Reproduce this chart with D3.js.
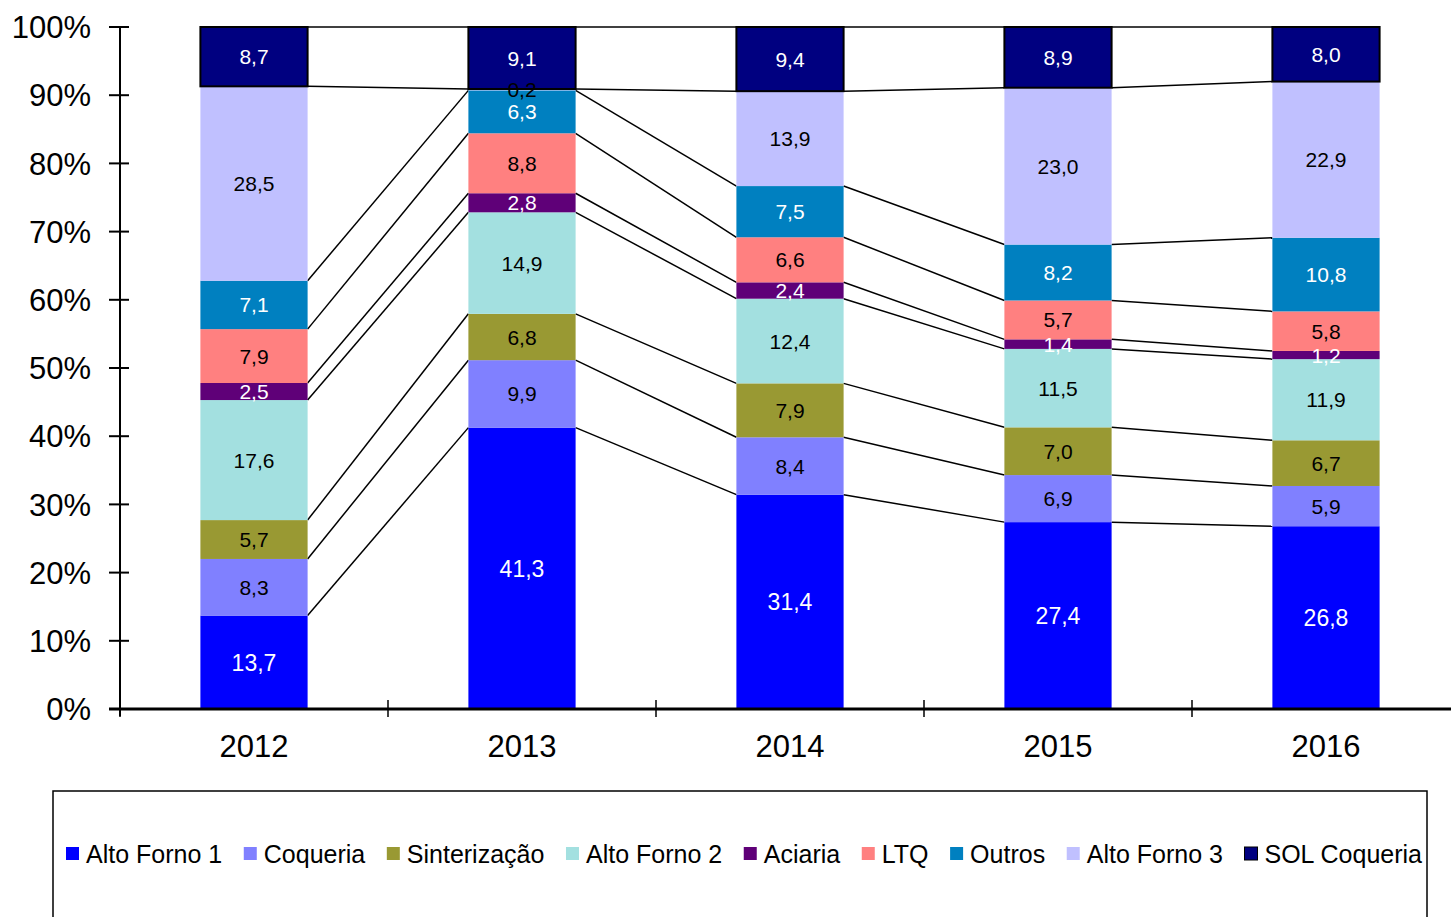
<!DOCTYPE html>
<html>
<head>
<meta charset="utf-8">
<script src="https://cdn.jsdelivr.net/npm/d3@7"></script>
<style>
  body { margin: 0; background: #fff; }
  svg { font-family: "Liberation Sans", Arial, sans-serif; }
</style>
</head>
<body>
<div id="chart"></div>
<script>
// data
const years = ["2012", "2013", "2014", "2015", "2016"];
const seriesNames = ["Alto Forno 1", "Coqueria", "Sinterização", "Alto Forno 2", "Aciaria", "LTQ", "Outros", "Alto Forno 3", "SOL Coqueria"];
const altoForno1 = [13.7, 41.3, 31.4, 27.4, 26.8];
const coqueria = [8.3, 9.9, 8.4, 6.9, 5.9];
const sinterizacao = [5.7, 6.8, 7.9, 7.0, 6.7];
const altoForno2 = [17.6, 14.9, 12.4, 11.5, 11.9];
const aciaria = [2.5, 2.8, 2.4, 1.4, 1.2];
const ltq = [7.9, 8.8, 6.6, 5.7, 5.8];
const outros = [7.1, 6.3, 7.5, 8.2, 10.8];
const altoForno3 = [28.5, 0.2, 13.9, 23.0, 22.9];
const solCoqueria = [8.7, 9.1, 9.4, 8.9, 8.0];
const yTicks = [0, 0.1, 0.2, 0.3, 0.4, 0.5, 0.6, 0.7, 0.8, 0.9, 1];

const colors = ["#0000ff", "#8080ff", "#999933", "#a3e0e0", "#5f0078", "#ff8080", "#0080c0", "#c0c0ff", "#000080"];
const labelColors = ["#fff", "#000", "#000", "#000", "#fff", "#000", "#fff", "#000", "#fff"];

const allValues = [altoForno1, coqueria, sinterizacao, altoForno2, aciaria, ltq, outros, altoForno3, solCoqueria];
const table = years.map((y, i) => {
  const row = { year: y };
  seriesNames.forEach((s, k) => { row[s] = allValues[k][i]; });
  return row;
});

const width = 1451, height = 917;
const svg = d3.select("#chart").append("svg")
  .attr("width", width)
  .attr("height", height);

const x = d3.scaleBand().domain(years).range([120, 1460]).paddingInner(0.6).paddingOuter(0.3);
const y = d3.scaleLinear().domain([0, 1]).range([709, 27]);

const stacked = d3.stack().keys(seriesNames).offset(d3.stackOffsetExpand)(table);
const fmt = v => d3.format(".1f")(v).replace(".", ",");

// series lines between bars
stacked.forEach(layer => {
  for (let i = 0; i < years.length - 1; i++) {
    svg.append("line")
      .attr("x1", x(years[i]) + x.bandwidth())
      .attr("x2", x(years[i + 1]))
      .attr("y1", y(layer[i][1]))
      .attr("y2", y(layer[i + 1][1]))
      .attr("stroke", "#000")
      .attr("stroke-width", 1.5);
  }
});

// bars
const cells = stacked.flatMap(layer => layer.map(p => ({ p: p, key: layer.key, idx: layer.index })));
svg.append("g").selectAll("rect")
  .data(cells)
  .join("rect")
  .attr("x", d => x(d.p.data.year))
  .attr("width", x.bandwidth())
  .attr("y", d => y(d.p[1]))
  .attr("height", d => y(d.p[0]) - y(d.p[1]))
  .attr("fill", d => colors[d.idx])
  .attr("stroke", d => d.idx === 8 ? "#000" : "none")
  .attr("stroke-width", 2);

// value labels (drawn after all bars)
svg.append("g").selectAll("text")
  .data(cells)
  .join("text")
  .attr("x", d => x(d.p.data.year) + x.bandwidth() / 2)
  .attr("y", d => y((d.p[0] + d.p[1]) / 2))
  .attr("dy", "0.36em")
  .attr("text-anchor", "middle")
  .attr("font-size", d => d.idx === 0 ? 23 : 21)
  .attr("fill", d => labelColors[d.idx])
  .text(d => fmt(d.p.data[d.key]));

// y axis
const yAxis = svg.append("g");
yAxis.append("line")
  .attr("x1", 120).attr("x2", 120).attr("y1", 27).attr("y2", 716)
  .attr("stroke", "#000").attr("stroke-width", 2);
yTicks.forEach(t => {
  yAxis.append("line")
    .attr("x1", 109).attr("x2", 129).attr("y1", y(t)).attr("y2", y(t))
    .attr("stroke", "#000").attr("stroke-width", 2);
  yAxis.append("text")
    .attr("x", 91).attr("y", y(t)).attr("dy", "0.36em")
    .attr("text-anchor", "end").attr("font-size", 31)
    .text(d3.format(".0%")(t));
});

// x axis
const xAxis = svg.append("g");
xAxis.append("line")
  .attr("x1", 109).attr("x2", width).attr("y1", 709).attr("y2", 709)
  .attr("stroke", "#000").attr("stroke-width", 3);
const step = x.step();
for (let i = 0; i <= years.length; i++) {
  xAxis.append("line")
    .attr("x1", 120 + i * step).attr("x2", 120 + i * step)
    .attr("y1", 700).attr("y2", 717)
    .attr("stroke", "#000").attr("stroke-width", 1.5);
}
xAxis.selectAll("text.year").data(years).join("text")
  .attr("class", "year")
  .attr("x", d => x(d) + x.bandwidth() / 2)
  .attr("y", 757)
  .attr("text-anchor", "middle")
  .attr("font-size", 31)
  .text(d => d);

// legend
const legend = svg.append("g");
legend.append("rect")
  .attr("x", 53).attr("y", 791).attr("width", 1374).attr("height", 160)
  .attr("fill", "none").attr("stroke", "#000").attr("stroke-width", 1.5);

const items = seriesNames.map((s, k) => {
  const g = legend.append("g");
  g.append("rect").attr("x", 0).attr("y", -16).attr("width", 13).attr("height", 13)
    .attr("fill", colors[k]).attr("stroke", k === 8 ? "#000" : "none");
  const t = g.append("text").attr("x", 20).attr("y", 0).attr("font-size", 25).text(s);
  return { g: g, w: 20 + t.node().getComputedTextLength() };
});
const totalW = d3.sum(items, d => d.w);
const gap = (1422 - 66 - totalW) / (items.length - 1);
let cx = 66;
items.forEach(it => {
  it.g.attr("transform", `translate(${cx},863)`);
  cx += it.w + gap;
});
</script>
</body>
</html>
